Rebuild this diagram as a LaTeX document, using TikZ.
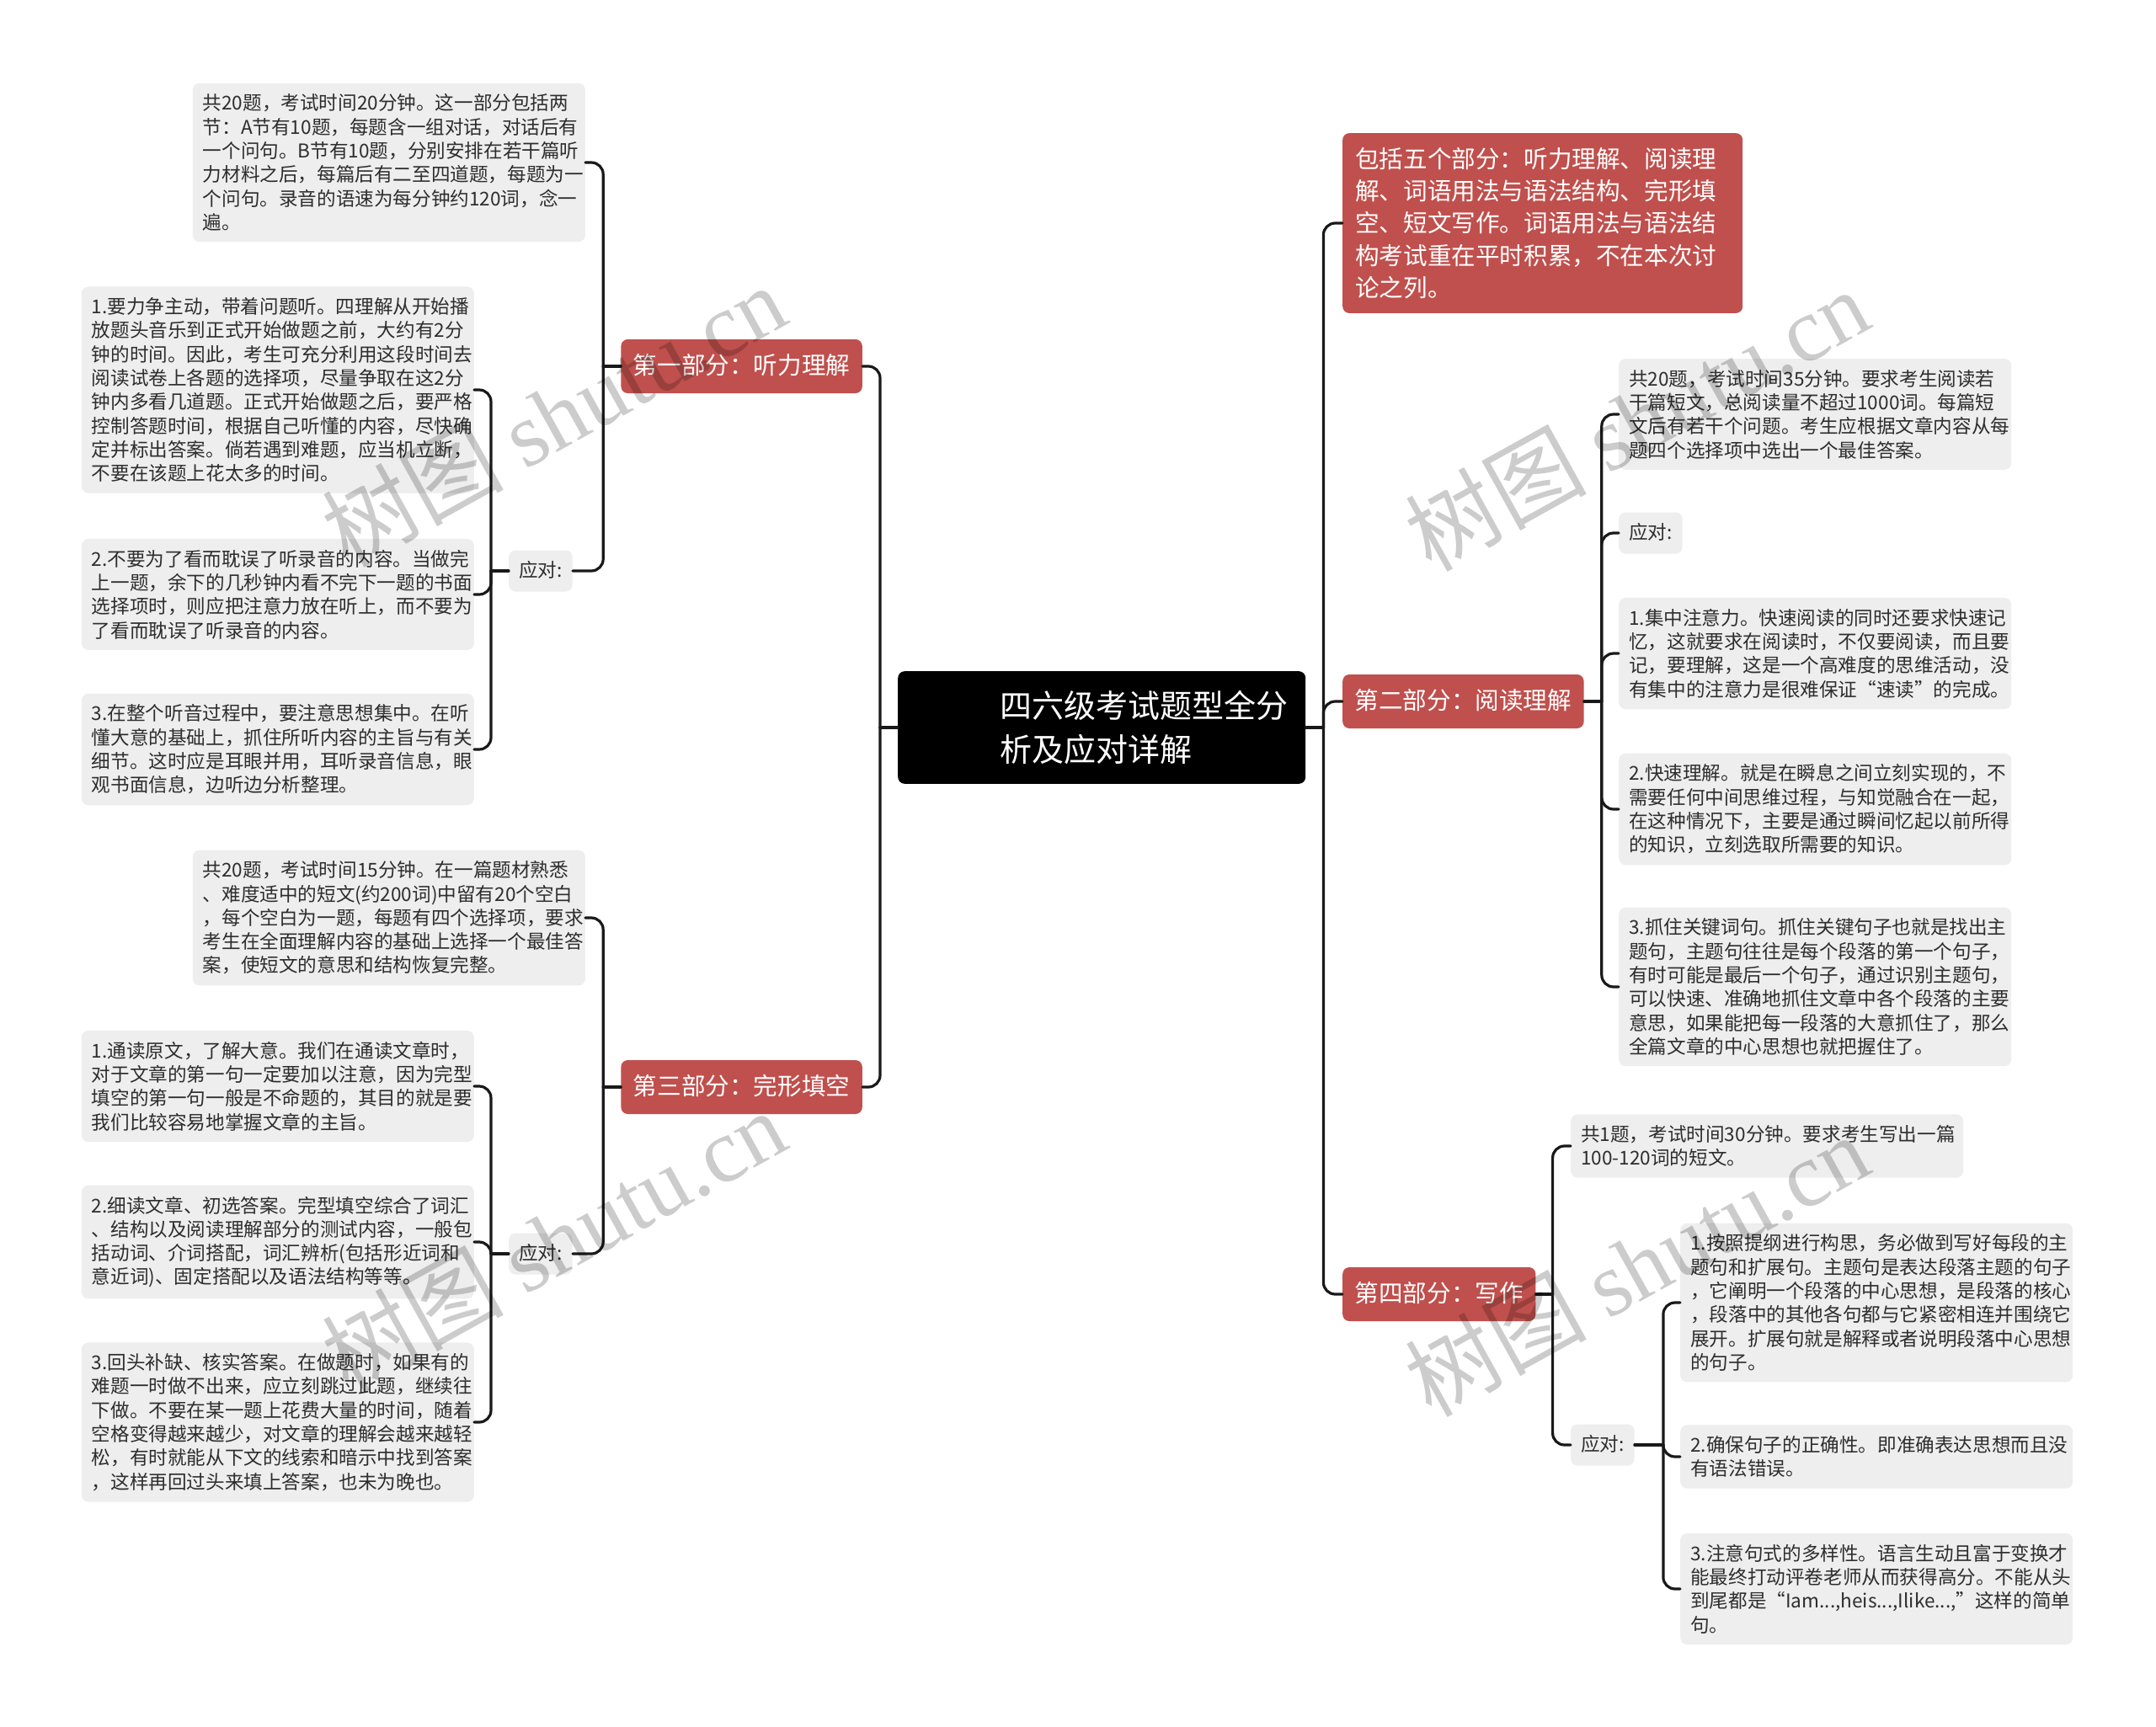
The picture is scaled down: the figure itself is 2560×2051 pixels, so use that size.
\documentclass[tikz,border=0pt]{standalone}
\usepackage{fontspec}
\setmainfont{Noto Sans CJK SC}
\newfontfamily\wmserif{Liberation Serif}

\definecolor{topicred}{RGB}{192,80,77}
\definecolor{leafgray}{RGB}{238,238,238}
\definecolor{inkgray}{RGB}{45,45,45}

\tikzset{
	link/.style={draw=black!90,line width=3.2pt,rounded corners=14pt,line cap=round},
	leaf/.style={fill=leafgray,text=inkgray,rounded corners=8pt,inner xsep=12pt,inner ysep=13pt,
		text width=442pt,align=left,font=\fontsize{22.6pt}{28.3pt}\selectfont},
	tag/.style={fill=leafgray,text=inkgray,rounded corners=8pt,inner xsep=12pt,inner ysep=12pt,
		text height=20pt,text depth=5pt,font=\fontsize{22.6pt}{28.3pt}\selectfont},
	topic/.style={fill=topicred,text=white,rounded corners=8pt,inner xsep=14.5pt,inner ysep=17pt,
		text height=24pt,text depth=6pt,font=\fontsize{28.6pt}{38.3pt}\selectfont},
	note/.style={fill=topicred,text=white,rounded corners=8pt,inner xsep=15pt,inner ysep=17pt,
		text width=445pt,align=left,font=\fontsize{28.6pt}{38.3pt}\selectfont},
	rootbox/.style={fill=black,text=white,rounded corners=8pt,inner xsep=17pt,inner ysep=23pt,
		text width=450pt,align=left,font=\fontsize{38pt}{52pt}\selectfont},
	wmark/.style={text=black,text opacity=0.2,rotate=29,font=\fontsize{108pt}{108pt}\selectfont}
}

\begin{document}
\begin{tikzpicture}[x=1pt,y=-1pt]
	\fill[white] (0,0) rectangle (2560,2051);
	\useasboundingbox (0,0) rectangle (2560,2051);

	\node[rootbox,anchor=west] (root) at (1066,864)
		{\hspace*{104pt}四六级考试题型全分\\\hspace*{104pt}析及应对详解};

	% left: listening
	\node[topic,anchor=east] (s1) at (1024,435) {第一部分：听力理解};
	\node[leaf,anchor=east] (s1a) at (695,193) {共20题，考试时间20分钟。这一部分包括两\\节：A节有10题，每题含一组对话，对话后有\\一个问句。B节有10题，分别安排在若干篇听\\力材料之后，每篇后有二至四道题，每题为一\\个问句。录音的语速为每分钟约120词，念一\\遍。};
	\node[tag,anchor=west] (s1y) at (604,678) {应对:};
	\node[leaf,anchor=east] (s1y1) at (563,463) {1.要力争主动，带着问题听。四理解从开始播\\放题头音乐到正式开始做题之前，大约有2分\\钟的时间。因此，考生可充分利用这段时间去\\阅读试卷上各题的选择项，尽量争取在这2分\\钟内多看几道题。正式开始做题之后，要严格\\控制答题时间，根据自己听懂的内容，尽快确\\定并标出答案。倘若遇到难题，应当机立断，\\不要在该题上花太多的时间。};
	\node[leaf,anchor=east] (s1y2) at (563,706) {2.不要为了看而耽误了听录音的内容。当做完\\上一题，余下的几秒钟内看不完下一题的书面\\选择项时，则应把注意力放在听上，而不要为\\了看而耽误了听录音的内容。};
	\node[leaf,anchor=east] (s1y3) at (563,890) {3.在整个听音过程中，要注意思想集中。在听\\懂大意的基础上，抓住所听内容的主旨与有关\\细节。这时应是耳眼并用，耳听录音信息，眼\\观书面信息，边听边分析整理。};

	% left: cloze
	\node[topic,anchor=east] (s3) at (1024,1291) {第三部分：完形填空};
	\node[leaf,anchor=east] (s3a) at (695,1090) {共20题，考试时间15分钟。在一篇题材熟悉\\、难度适中的短文(约200词)中留有20个空白\\，每个空白为一题，每题有四个选择项，要求\\考生在全面理解内容的基础上选择一个最佳答\\案，使短文的意思和结构恢复完整。};
	\node[tag,anchor=west] (s3y) at (604,1489) {应对:};
	\node[leaf,anchor=east] (s3y1) at (563,1290) {1.通读原文，了解大意。我们在通读文章时，\\对于文章的第一句一定要加以注意，因为完型\\填空的第一句一般是不命题的，其目的就是要\\我们比较容易地掌握文章的主旨。};
	\node[leaf,anchor=east] (s3y2) at (563,1475) {2.细读文章、初选答案。完型填空综合了词汇\\、结构以及阅读理解部分的测试内容，一般包\\括动词、介词搭配，词汇辨析(包括形近词和\\意近词)、固定搭配以及语法结构等等。};
	\node[leaf,anchor=east] (s3y3) at (563,1689) {3.回头补缺、核实答案。在做题时，如果有的\\难题一时做不出来，应立刻跳过此题，继续往\\下做。不要在某一题上花费大量的时间，随着\\空格变得越来越少，对文章的理解会越来越轻\\松，有时就能从下文的线索和暗示中找到答案\\，这样再回过头来填上答案，也未为晚也。};

	% right: overview and reading
	\node[note,anchor=west] (note) at (1594,265) {包括五个部分：听力理解、阅读理\\解、词语用法与语法结构、完形填\\空、短文写作。词语用法与语法结\\构考试重在平时积累，不在本次讨\\论之列。};
	\node[topic,anchor=west] (s2) at (1594,833) {第二部分：阅读理解};
	\node[leaf,anchor=west] (s2a) at (1922,492) {共20题，考试时间35分钟。要求考生阅读若\\干篇短文，总阅读量不超过1000词。每篇短\\文后有若干个问题。考生应根据文章内容从每\\题四个选择项中选出一个最佳答案。};
	\node[tag,anchor=west] (s2y) at (1922,633) {应对:};
	\node[leaf,anchor=west] (s2b1) at (1922,776) {1.集中注意力。快速阅读的同时还要求快速记\\忆，这就要求在阅读时，不仅要阅读，而且要\\记，要理解，这是一个高难度的思维活动，没\\有集中的注意力是很难保证“速读”的完成。};
	\node[leaf,anchor=west] (s2b2) at (1922,961) {2.快速理解。就是在瞬息之间立刻实现的，不\\需要任何中间思维过程，与知觉融合在一起，\\在这种情况下，主要是通过瞬间忆起以前所得\\的知识，立刻选取所需要的知识。};
	\node[leaf,anchor=west] (s2b3) at (1922,1172) {3.抓住关键词句。抓住关键句子也就是找出主\\题句，主题句往往是每个段落的第一个句子，\\有时可能是最后一个句子，通过识别主题句，\\可以快速、准确地抓住文章中各个段落的主要\\意思，如果能把每一段落的大意抓住了，那么\\全篇文章的中心思想也就把握住了。};

	% right: writing
	\node[topic,anchor=west] (s4) at (1594,1537) {第四部分：写作};
	\node[leaf,anchor=west] (s4a) at (1865,1361) {共1题，考试时间30分钟。要求考生写出一篇\\100-120词的短文。};
	\node[tag,anchor=west] (s4y) at (1865,1716) {应对:};
	\node[leaf,anchor=west] (s4y1) at (1995,1547) {1.按照提纲进行构思，务必做到写好每段的主\\题句和扩展句。主题句是表达段落主题的句子\\，它阐明一个段落的中心思想，是段落的核心\\，段落中的其他各句都与它紧密相连并围绕它\\展开。扩展句就是解释或者说明段落中心思想\\的句子。};
	\node[leaf,anchor=west] (s4y2) at (1995,1730) {2.确保句子的正确性。即准确表达思想而且没\\有语法错误。};
	\node[leaf,anchor=west] (s4y3) at (1995,1887) {3.注意句式的多样性。语言生动且富于变换才\\能最终打动评卷老师从而获得高分。不能从头\\到尾都是“Iam...,heis...,Ilike...,”这样的简单\\句。};

	% connectors
	\draw[link] (root.west) -- ++(-21,0) coordinate (lbar);
	\foreach \n in {s1,s3} \draw[link] (lbar) |- (\n.east);
	\draw[link] (root.east) -- ++(21,0) coordinate (rbar);
	\foreach \n in {note,s2,s4} \draw[link] (rbar) |- (\n.west);

	\draw[link] (s1.west) -- ++(-21,0) coordinate (b1);
	\foreach \n in {s1a,s1y} \draw[link] (b1) |- (\n.east);
	\draw[link] (s1y.west) -- ++(-21,0) coordinate (b1y);
	\foreach \n in {s1y1,s1y2,s1y3} \draw[link] (b1y) |- (\n.east);

	\draw[link] (s3.west) -- ++(-21,0) coordinate (b3);
	\foreach \n in {s3a,s3y} \draw[link] (b3) |- (\n.east);
	\draw[link] (s3y.west) -- ++(-21,0) coordinate (b3y);
	\foreach \n in {s3y1,s3y2,s3y3} \draw[link] (b3y) |- (\n.east);

	\draw[link] (s2.east) -- ++(21,0) coordinate (b2);
	\foreach \n in {s2a,s2y,s2b1,s2b2,s2b3} \draw[link] (b2) |- (\n.west);

	\draw[link] (s4.east) -- ++(20,0) coordinate (b4);
	\foreach \n in {s4a,s4y} \draw[link] (b4) |- (\n.west);
	\draw[link] (s4y.east) -- ++(34,0) coordinate (b4y);
	\foreach \n in {s4y1,s4y2,s4y3} \draw[link] (b4y) |- (\n.west);

	% watermark
	\node[wmark] (wm1) at (657,493) {树图 {\wmserif shutu.cn}};
	\node[wmark] (wm2) at (1943,498) {树图 {\wmserif shutu.cn}};
	\node[wmark] (wm3) at (657,1473) {树图 {\wmserif shutu.cn}};
	\node[wmark] (wm4) at (1943,1502) {树图 {\wmserif shutu.cn}};
\end{tikzpicture}
\end{document}
